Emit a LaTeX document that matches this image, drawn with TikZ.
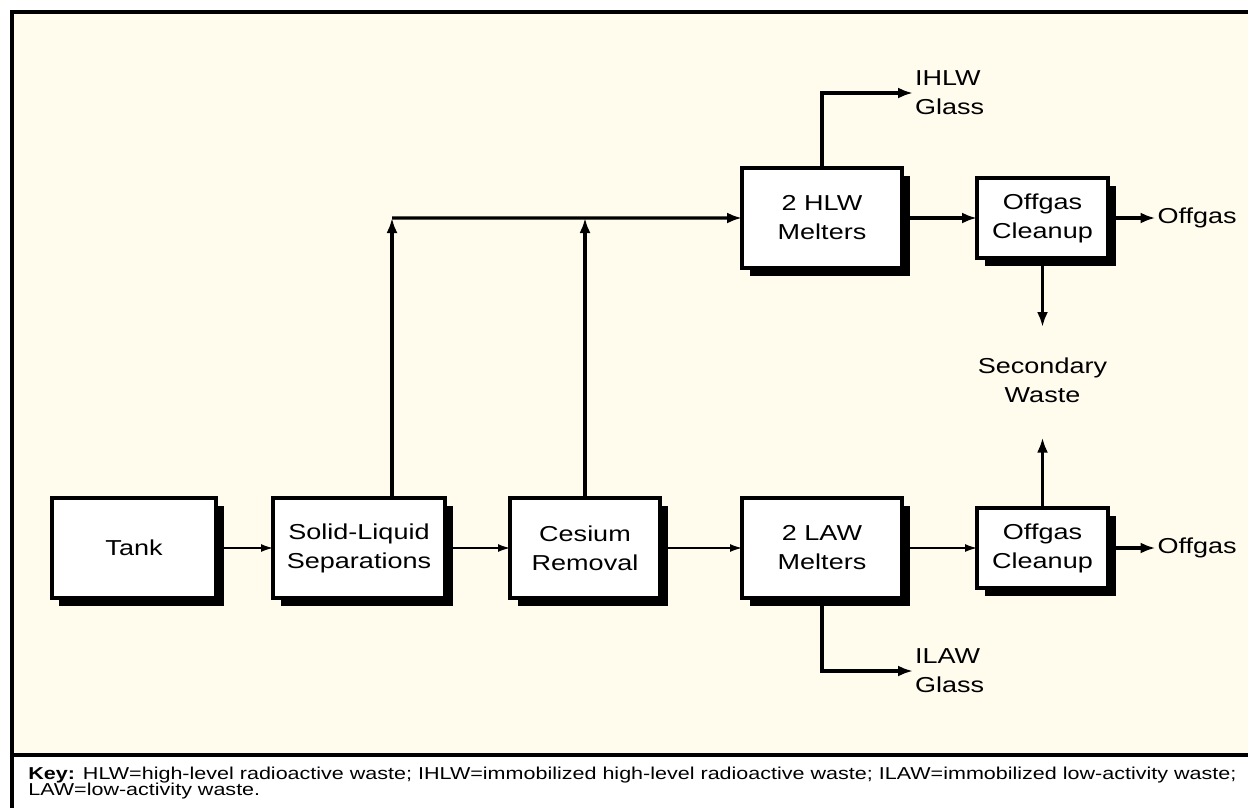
\documentclass[tikz,border=0pt]{standalone}
\usepackage{fontspec}
\setmainfont{Liberation Sans}[FakeStretch=1.25]
\usetikzlibrary{arrows.meta, positioning, shadows}
\definecolor{cream}{RGB}{255,252,238}
\tikzstyle{block} = [draw, fill=white, line width=1.8pt, rectangle, minimum height=2cm, align=center, outer sep=0pt, font=\fontsize{12.3}{16.5}\selectfont, drop shadow={shadow xshift=0.15cm, shadow yshift=-0.15cm, fill=black, opacity=1}]
\tikzstyle{cleanup} = [block, minimum width=2.62cm, minimum height=1.6cm]
\tikzstyle{stream} = [align=left, inner sep=1pt, font=\fontsize{12.3}{16.5}\selectfont]
\tikzstyle{note} = [inner sep=0pt, font=\fontsize{9.8}{9.4}\selectfont]
\tikzstyle{pipe} = [-{Latex[length=3mm, width=2.2mm]}, line width=1.8pt]
\tikzstyle{feed} = [-{Latex[length=2.4mm, width=1.6mm]}, line width=0.8pt]

\begin{document}
\begin{tikzpicture}
    % Frame.
    \useasboundingbox (0,0) rectangle (24.96,-16.16);
    \fill [white] (0,0) rectangle (24.96,-16.16);
    \fill [cream] (0.24,-0.24) rectangle (24.96,-15.1);
    \draw [line width=1.8pt] (0.24,-16.16) -- (0.24,-0.24) -- (24.96,-0.24);
    \draw [line width=1.8pt] (0.24,-15.1) -- (24.96,-15.1);

    % Low-activity line.
    \node (tank) [block, minimum width=3.28cm] at (2.68,-10.96) {Tank};
    \node (sep) [block, minimum width=3.44cm, right=1.14cm of tank] {Solid-Liquid\\Separations};
    \node (cesium) [block, minimum width=3cm, right=1.3cm of sep] {Cesium\\Removal};
    \node (law) [block, minimum width=3.2cm, right=1.64cm of cesium] {2 LAW\\Melters};
    \node (lowgas) [cleanup, right=1.5cm of law] {Offgas\\Cleanup};

    % High-level line.
    \node (hlw) [block, minimum width=3.2cm, above=4.6cm of law] {2 HLW\\Melters};
    \node (topgas) [cleanup, right=1.5cm of hlw] {Offgas\\Cleanup};

    % Products.
    \node (ihlw) [stream, anchor=west] at (18.26,-1.86) {IHLW\\Glass};
    \node (ilaw) [stream, anchor=west] at (18.26,-13.42) {ILAW\\Glass};
    \node (topoff) [stream, right=0.95cm of topgas] {Offgas};
    \node (lowoff) [stream, right=0.95cm of lowgas] {Offgas};
    \node (waste) [stream, align=center, inner sep=0pt, below=1.98cm of topgas] {Secondary\\Waste};
    \coordinate [above=5.6cm of sep.north, xshift=0.66cm] (split);

    % Arrows.
    \draw [feed] (tank) -- (sep);
    \draw [feed] (sep) -- (cesium);
    \draw [feed] (cesium) -- (law);
    \draw [feed] (law) -- (lowgas);

    \draw [pipe] (split |- sep.north) -- (split);
    \draw [pipe] (cesium.north) -- (cesium |- split);
    \draw [pipe] (split) -- (hlw);
    \draw [pipe] (hlw) -- (topgas);
    \draw [pipe] (hlw.north) |- (ihlw);
    \draw [pipe] (law.south) |- (ilaw);
    \draw [pipe] (topgas) -- (topoff);
    \draw [pipe] (lowgas) -- (lowoff);
    \draw [pipe, shorten >=0.6cm] (topgas) -- (waste);
    \draw [pipe, shorten >=0.7cm] (lowgas) -- (waste);

    % Key.
    \node (key) [note, anchor=base west] at (0.56,-15.58) {\textbf{Key:} HLW=high-level radioactive waste; IHLW=immobilized high-level radioactive waste; ILAW=immobilized low-activity waste;};
    \node (keycont) [note, anchor=base west] at (0.56,-15.9) {LAW=low-activity waste.};
\end{tikzpicture}
\end{document}
